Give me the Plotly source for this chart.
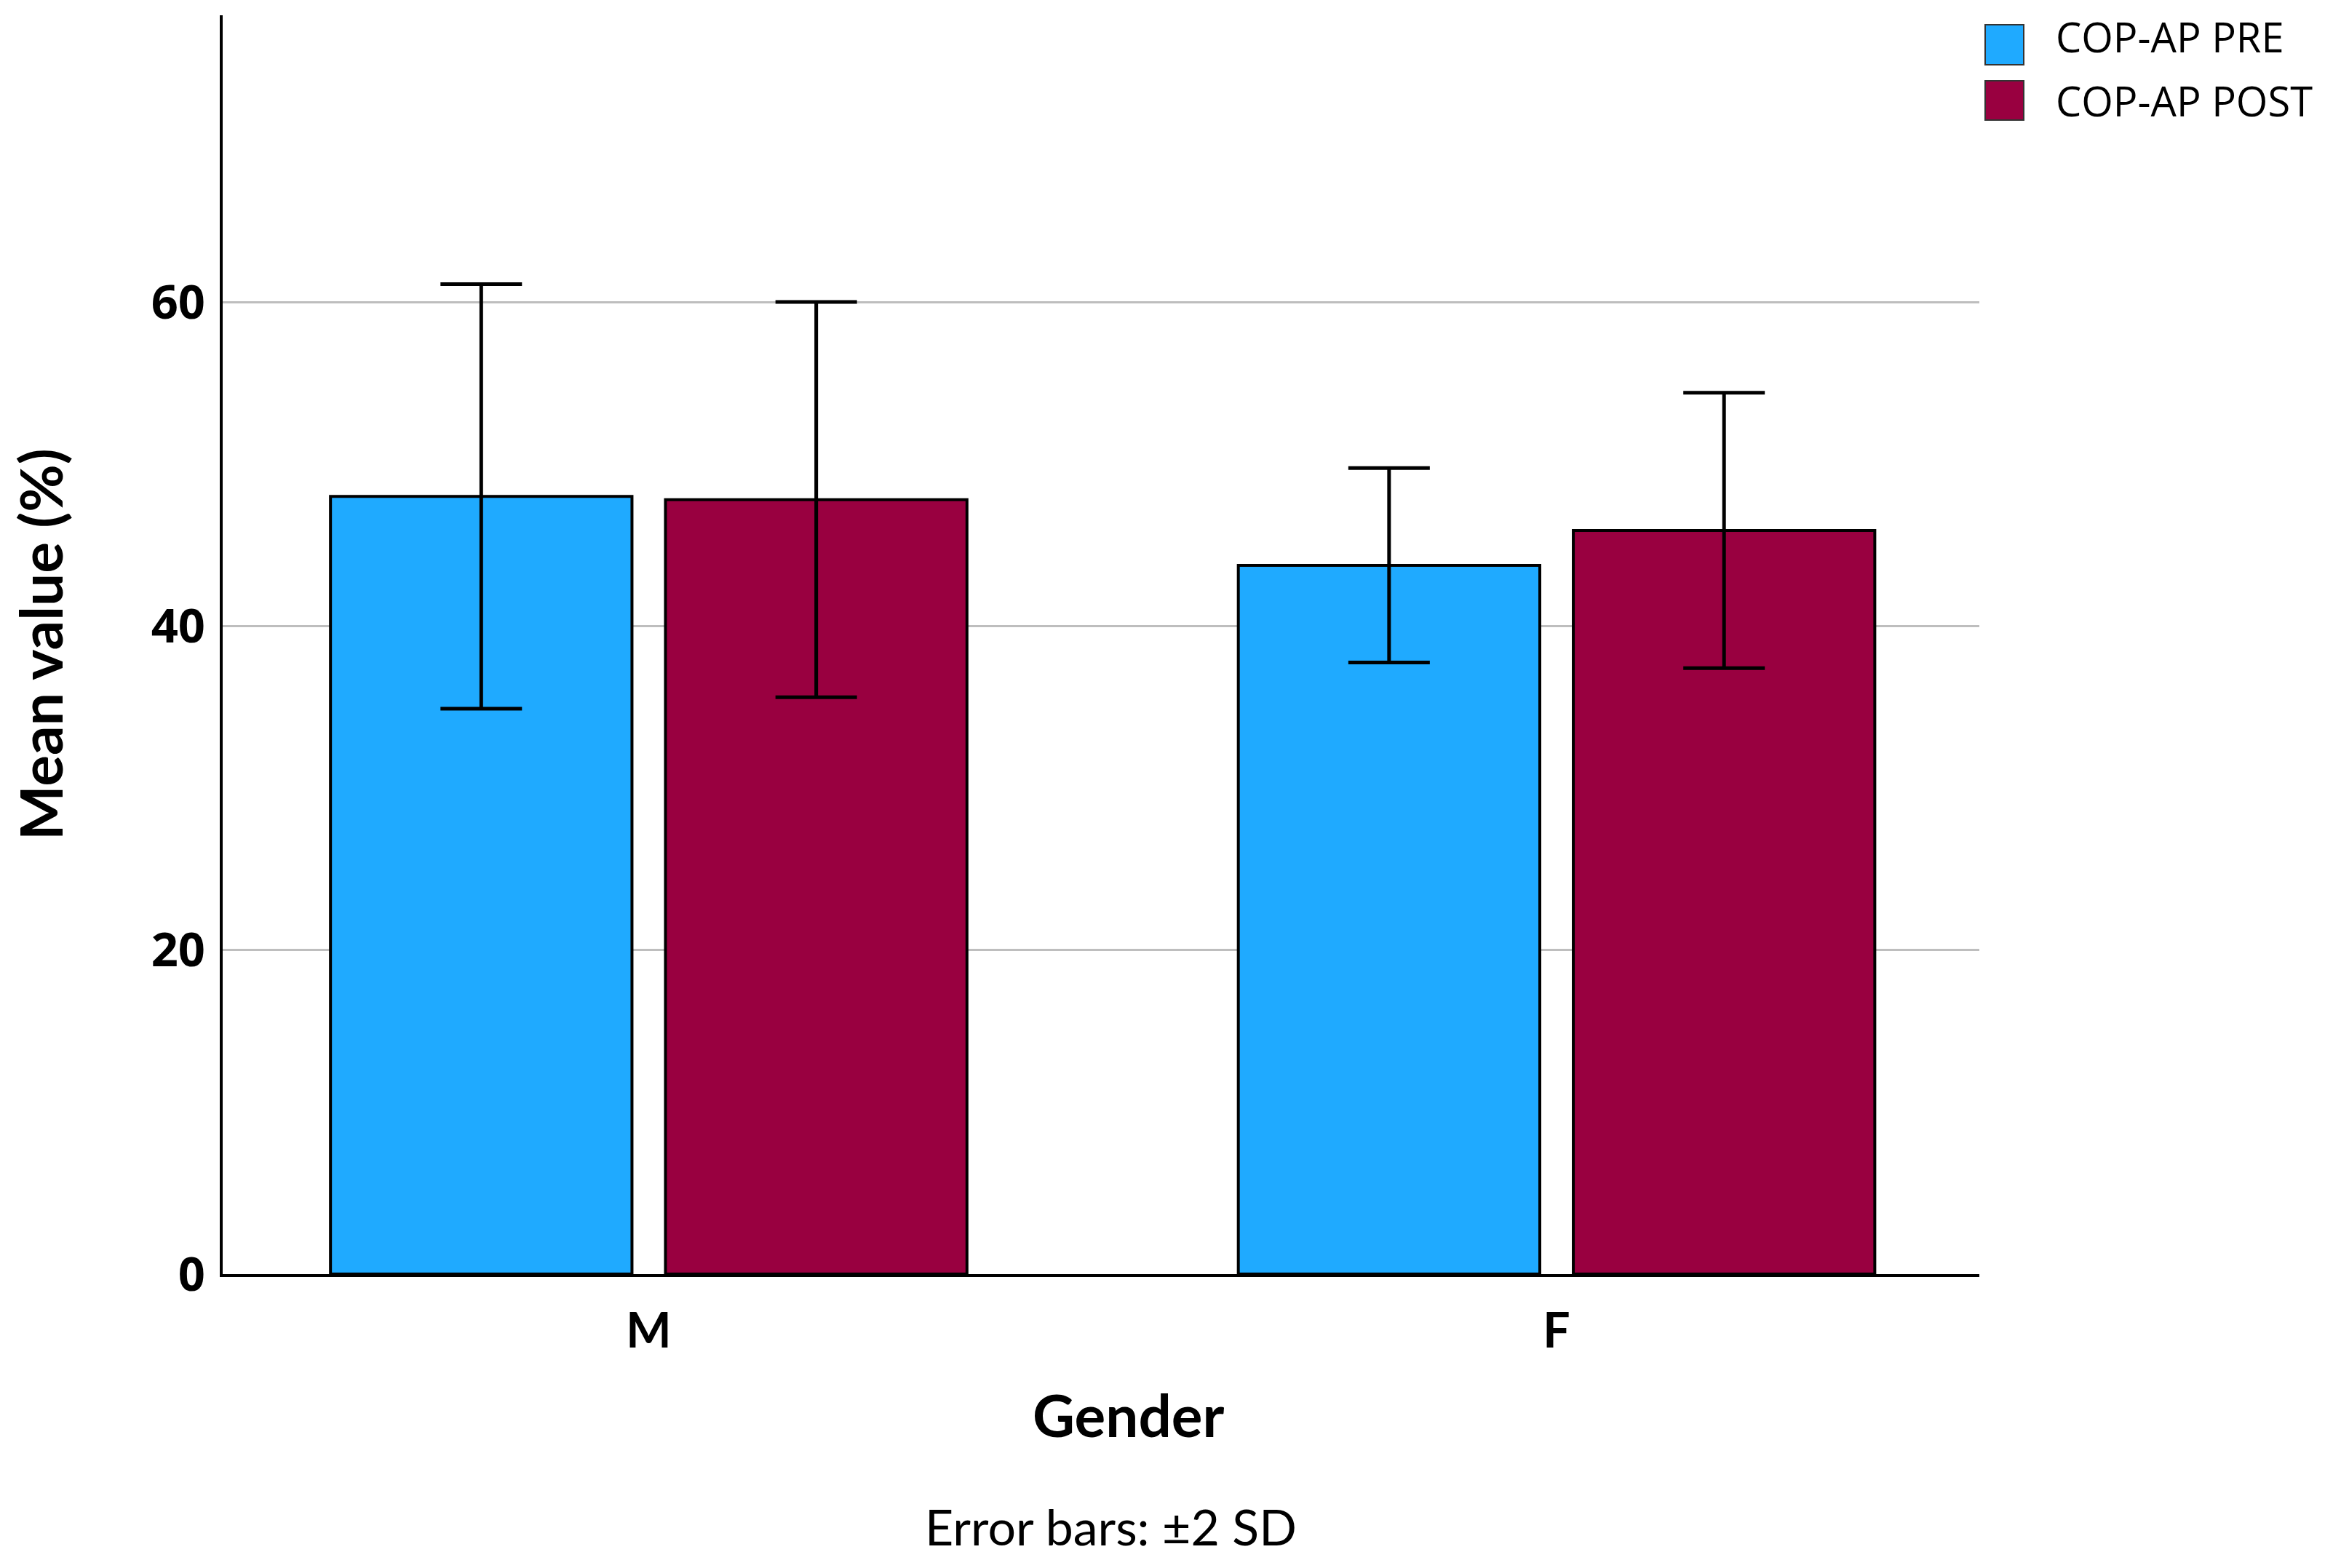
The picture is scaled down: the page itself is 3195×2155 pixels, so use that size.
import plotly.graph_objects as go

# ---- data ----
categories = ["M", "F"]
series_names = ["COP-AP PRE", "COP-AP POST"]
pre_means = [48.0, 43.75]
post_means = [47.8, 45.9]
pre_err = [13.1, 6.0]     # 2 SD
post_err = [12.2, 8.5]    # 2 SD
y_ticks = [0, 20, 40, 60]
y_tick_labels = ["0", "20", "40", "60"]

colors = ["#1FAAFF", "#990040"]

OFF = 8  # default page body margin
W, H = 3195 - OFF, 2155 - OFF
L, R, T, B = 306, 2720, 21, 1751  # plot area in screen pixels


def px2x(px):
    return (px - L) / (R - L)


def py2y(py):
    return (B - py) / (B - T)


fig = go.Figure()
for name, means, errs, col in [
    (series_names[0], pre_means, pre_err, colors[0]),
    (series_names[1], post_means, post_err, colors[1]),
]:
    fig.add_trace(go.Bar(
        x=categories, y=means, name=name,
        marker=dict(color=col, line=dict(color="black", width=4)),
        error_y=dict(type="data", array=errs, visible=True,
                     color="black", thickness=5, width=56),
        showlegend=False,
    ))

fig.update_layout(
    width=W, height=H,
    margin=dict(l=L - OFF, r=W - (R - OFF), t=T - OFF, b=H - (B - OFF), pad=0),
    paper_bgcolor="white", plot_bgcolor="white",
    barmode="group", bargap=0.262, bargroupgap=0.1,
    showlegend=False,
    font=dict(family="Lato", color="black"),
)

fig.update_xaxes(
    type="category", range=[-0.4693, 1.4657],
    showline=True, linecolor="black", linewidth=4,
    showgrid=False, ticks="", ticklabelstandoff=18,
    tickfont=dict(family="Lato", size=66, color="black", weight="bold"),
)
fig.update_yaxes(
    range=[0, 77.7], tickvals=y_ticks, ticktext=y_tick_labels,
    showline=True, linecolor="black", linewidth=4,
    showgrid=True, gridcolor="#BEBEBE", gridwidth=3,
    zeroline=False, ticks="", ticklabelstandoff=7,
    tickfont=dict(family="Noto Sans", size=65, color="black", weight="bold"),
)

annotations = [
    dict(text="<b>Mean value (%)</b>", x=px2x(55), y=py2y(886), xref="paper", yref="paper",
         textangle=-90, showarrow=False, xanchor="center", yanchor="middle",
         font=dict(family="Lato", size=80, color="black")),
    dict(text="<b>Gender</b>", x=px2x(1551), y=py2y(1944), xref="paper", yref="paper",
         showarrow=False, xanchor="center", yanchor="middle",
         font=dict(family="Lato", size=80, color="black")),
    dict(text="Error bars: ±2 SD", x=px2x(1526), y=py2y(2097), xref="paper", yref="paper",
         showarrow=False, xanchor="center", yanchor="middle",
         font=dict(family="Lato", size=68, color="black")),
    dict(text=series_names[0], x=px2x(2823), y=py2y(50), xref="paper", yref="paper",
         showarrow=False, xanchor="left", yanchor="middle",
         font=dict(family="Open Sans", size=56, color="black")),
    dict(text=series_names[1], x=px2x(2823), y=py2y(138), xref="paper", yref="paper",
         showarrow=False, xanchor="left", yanchor="middle",
         font=dict(family="Open Sans", size=56, color="black")),
]
fig.update_layout(annotations=annotations)

shapes = [
    dict(type="rect", xref="paper", yref="paper",
         x0=px2x(2728), x1=px2x(2781), y0=py2y(89), y1=py2y(34),
         fillcolor=colors[0], line=dict(color="#333333", width=2)),
    dict(type="rect", xref="paper", yref="paper",
         x0=px2x(2728), x1=px2x(2781), y0=py2y(165), y1=py2y(111),
         fillcolor=colors[1], line=dict(color="#333333", width=2)),
]
fig.update_layout(shapes=shapes)

fig.write_html("out.html")
